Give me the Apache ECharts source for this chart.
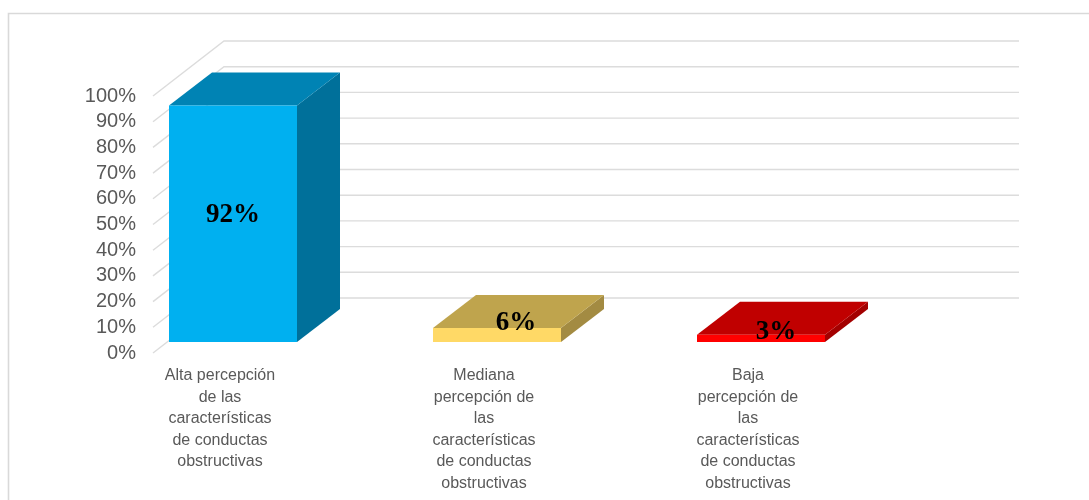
<!DOCTYPE html>
<html>
<head>
<meta charset="utf-8">
<title>Percepción de conductas obstructivas</title>
<style>
    html, body { margin: 0; padding: 0; background: #fff; }
    #main { width: 1089px; height: 500px; }
</style>
<script src="https://cdn.jsdelivr.net/npm/echarts@6/dist/echarts.min.js"></script>
</head>
<body>
<div id="main"></div>
<script>
var categories = [
    'Alta percepción\nde las\ncaracterísticas\nde conductas\nobstructivas',
    'Mediana\npercepción de\nlas\ncaracterísticas\nde conductas\nobstructivas',
    'Baja\npercepción de\nlas\ncaracterísticas\nde conductas\nobstructivas'
];
var barValues = [92, 5.4, 2.8];
var barLabels = ['92%', '6%', '3%'];
var wallTicks = [0, 10, 20, 30, 40, 50, 60, 70, 80, 90, 100];

// 伪3D: front / top / side colour of each bar
var frontColors = ['#00b0f0', '#ffd966', '#ff0000'];
var topColors = ['#0083b4', '#bfa44d', '#c00000'];
var sideColors = ['#00709a', '#a38b42', '#a30000'];

var gridTop = 96;
var gridHeight = 257;
var wallDepth = [71, -55];
var barDepth = [43, -33];
var barWidth = 128;
var barShift = [13, -11]; // bars stand a little inside the floor
var labelNudge = [[0, -9], [19, -5], [15, -3]];

function renderWall(params, api) {
    var p = api.coord([0, api.value(0)]);
    var xEnd = api.coord([1, 0])[0];
    var backX = p[0] + wallDepth[0];
    var backY = p[1] + wallDepth[1];
    return {
        type: 'polyline',
        shape: {points: [[p[0], p[1]], [backX, backY], [xEnd + wallDepth[0], backY]]},
        style: {stroke: '#dcdcdc', lineWidth: 1.4, fill: null},
        silent: true
    };
}

function renderBar(params, api) {
    var i = api.value(0);
    var top = api.coord([i, api.value(1)]);
    var base = api.coord([i, 0]);
    var x0 = top[0] + barShift[0] - barWidth / 2;
    var x1 = x0 + barWidth;
    var y0 = top[1] + barShift[1];
    var y1 = base[1] + barShift[1];
    var dx = barDepth[0];
    var dy = barDepth[1];
    return {
        type: 'group',
        children: [{
            type: 'polygon',
            shape: {points: [[x1, y0], [x1 + dx, y0 + dy], [x1 + dx, y1 + dy], [x1, y1]]},
            style: {fill: sideColors[i]}
        }, {
            type: 'polygon',
            shape: {points: [[x0, y0], [x0 + dx, y0 + dy], [x1 + dx, y0 + dy], [x1, y0]]},
            style: {fill: topColors[i]}
        }, {
            type: 'rect',
            shape: {x: x0, y: y0, width: barWidth, height: y1 - y0},
            style: {fill: frontColors[i]}
        }, {
            type: 'text',
            z2: 10,
            style: {
                x: (x0 + x1) / 2 + labelNudge[i][0],
                y: y0 + (i === 0 ? (y1 - y0) / 2 : 0) + labelNudge[i][1] + (i === 0 ? 0 : 0),
                text: barLabels[i],
                fill: '#000',
                font: 'bold 27px "Liberation Serif"',
                align: 'center',
                verticalAlign: 'middle'
            }
        }]
    };
}

var option = {
    backgroundColor: '#fff',
    animation: false,
    graphic: [{
        type: 'rect',
        silent: true,
        shape: {x: 8.5, y: 13.5, width: 1200, height: 600},
        style: {fill: null, stroke: '#d9d9d9', lineWidth: 1.6}
    }],
    grid: [
        {left: 153, width: 795, top: gridTop, height: gridHeight},
        {left: 88, width: 792, top: gridTop, height: gridHeight}
    ],
    xAxis: [{
        gridIndex: 0,
        type: 'value',
        min: 0,
        max: 1,
        show: false
    }, {
        gridIndex: 1,
        type: 'category',
        data: categories,
        axisLine: {show: false},
        axisTick: {show: false},
        axisLabel: {
            interval: 0,
            margin: 12,
            color: '#595959',
            fontFamily: 'Liberation Sans',
            fontSize: 16,
            lineHeight: 21.5
        }
    }],
    yAxis: [{
        gridIndex: 0,
        type: 'value',
        min: 0,
        max: 100,
        interval: 10,
        axisLine: {show: false},
        axisTick: {show: false},
        splitLine: {show: false},
        axisLabel: {
            margin: 17,
            color: '#595959',
            fontFamily: 'Liberation Sans',
            fontSize: 20,
            formatter: '{value}%'
        }
    }, {
        gridIndex: 1,
        type: 'value',
        min: 0,
        max: 100,
        interval: 10,
        show: false
    }],
    series: [{
        name: 'pared',
        type: 'custom',
        xAxisIndex: 0,
        yAxisIndex: 0,
        z: 1,
        renderItem: renderWall,
        encode: {y: 0},
        data: wallTicks.map(function (v) { return [v]; })
    }, {
        name: 'percepción',
        type: 'custom',
        xAxisIndex: 1,
        yAxisIndex: 1,
        z: 3,
        renderItem: renderBar,
        encode: {x: 0, y: 1},
        data: barValues.map(function (v, i) { return [i, v]; })
    }]
};

var myChart = echarts.init(document.getElementById('main'));
myChart.setOption(option);
</script>
</body>
</html>
